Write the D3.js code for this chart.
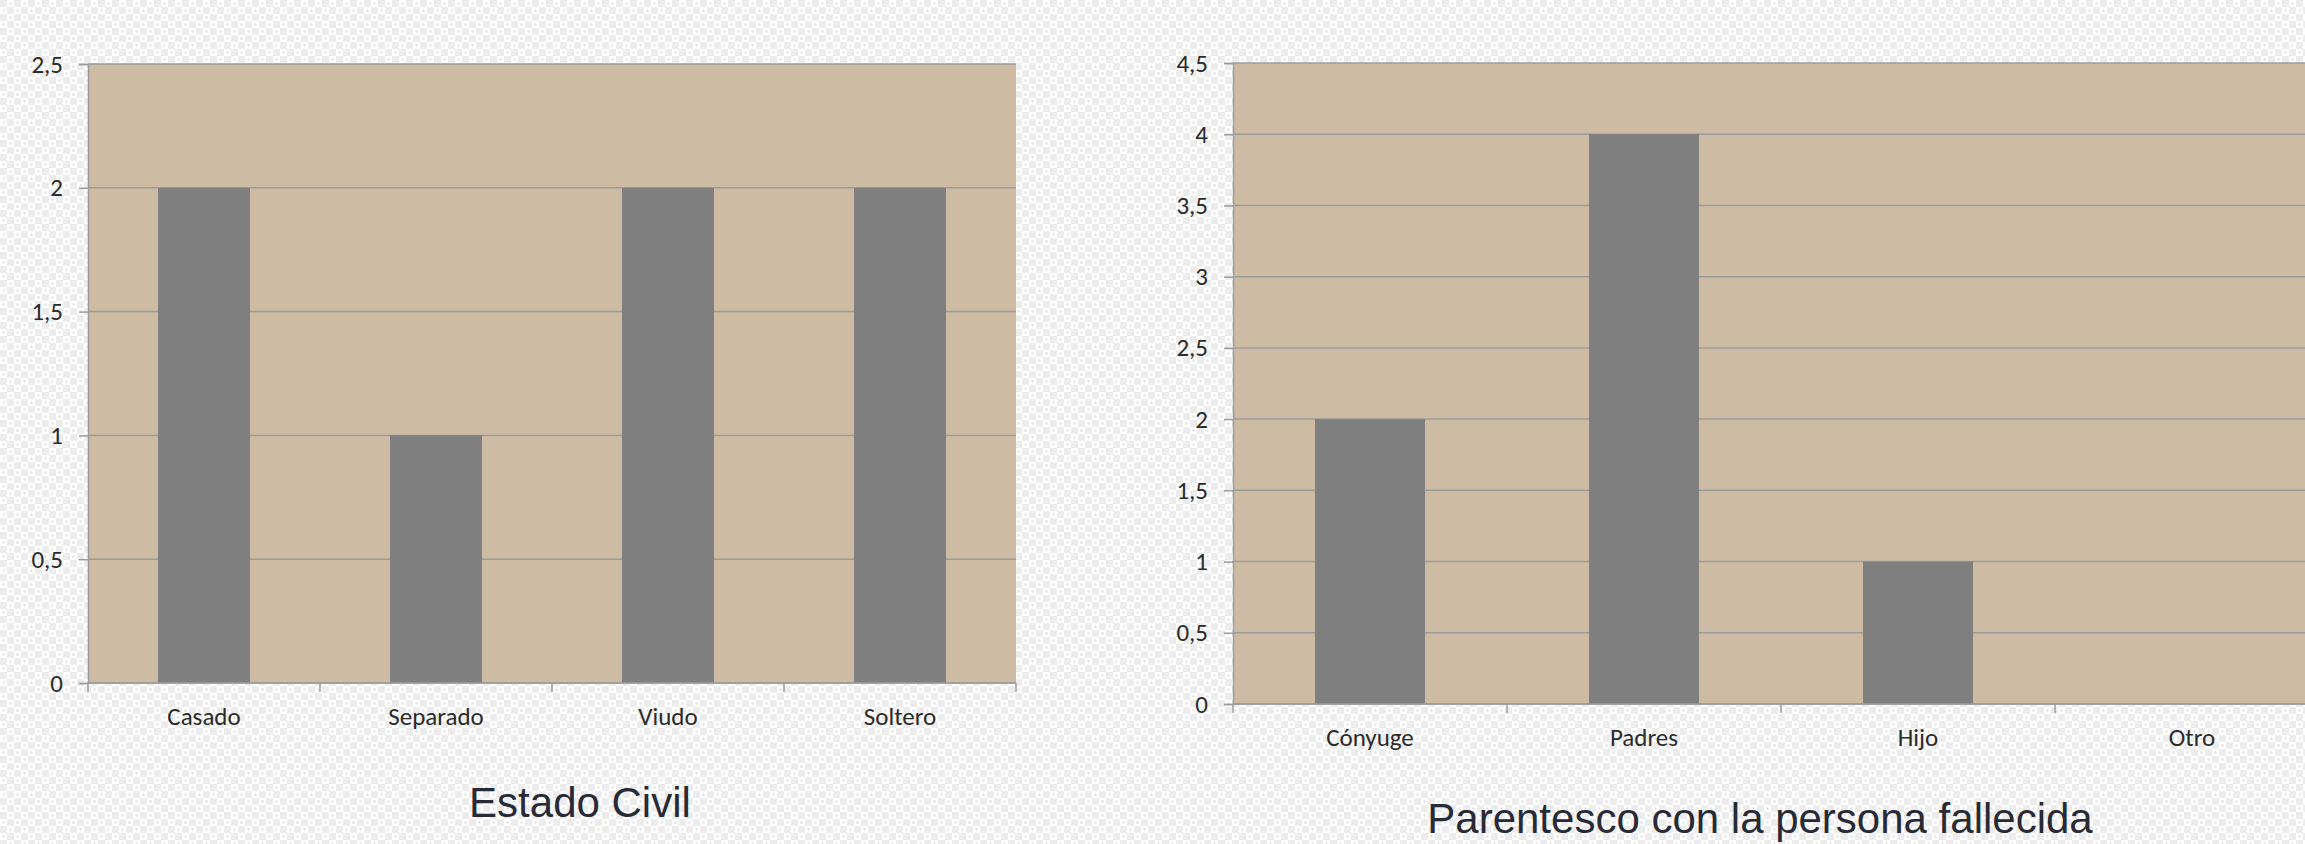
<!DOCTYPE html>
<html>
<head>
<meta charset="utf-8">
<script src="https://cdn.jsdelivr.net/npm/d3@7/dist/d3.min.js"></script>
<style>
  html, body { margin: 0; padding: 0; background: #fff; overflow: hidden; }
  svg { display: block; }
</style>
</head>
<body>
<svg id="chart" width="2305" height="844"></svg>
<script>
// ---- Data ----
const estadoCategories = ["Casado", "Separado", "Viudo", "Soltero"];
const estadoValues = [2, 1, 2, 2];
const estadoTicks = [0, 0.5, 1, 1.5, 2, 2.5];
const estadoTitle = "Estado Civil";

const parentescoCategories = ["Cónyuge", "Padres", "Hijo", "Otro"];
const parentescoValues = [2, 4, 1, 0];
const parentescoTicks = [0, 0.5, 1, 1.5, 2, 2.5, 3, 3.5, 4, 4.5];
const parentescoTitle = "Parentesco con la persona fallecida";

// ---- Setup ----
const svg = d3.select("#chart");
const defs = svg.append("defs");
const pat = defs.append("pattern").attr("id", "checker")
  .attr("width", 14).attr("height", 14).attr("patternUnits", "userSpaceOnUse");
pat.append("rect").attr("width", 14).attr("height", 14).attr("fill", "#ffffff");
pat.append("rect").attr("x", 0).attr("y", 0).attr("width", 7).attr("height", 7).attr("fill", "#ececec");
pat.append("rect").attr("x", 7).attr("y", 7).attr("width", 7).attr("height", 7).attr("fill", "#ececec");
pat.append("rect").attr("x", 9.5).attr("y", 2.5).attr("width", 2).attr("height", 2).attr("fill", "#dcdcdc");
pat.append("rect").attr("x", 2.5).attr("y", 9.5).attr("width", 2).attr("height", 2).attr("fill", "#dcdcdc");
svg.append("rect").attr("width", 2305).attr("height", 844).attr("fill", "url(#checker)");

const fmt = v => String(v).replace(".", ",");
const LABEL_FONT = "Carlito, Lato, 'Open Sans', sans-serif";
const GRID = "#9c9c9c";

function drawChart(cfg) {
  const { categories, values, ticks, title, left, right, top, bottom, barFrac, titleX, titleY } = cfg;
  const g = svg.append("g");
  const pi = 1 - barFrac;
  const x = d3.scaleBand().domain(categories).range([left, right])
    .paddingInner(pi).paddingOuter(pi / 2);
  const y = d3.scaleLinear().domain([0, d3.max(ticks)]).range([bottom, top]);

  // plot area
  g.append("rect").attr("x", left).attr("y", top)
    .attr("width", right - left).attr("height", bottom - top)
    .attr("fill", "#cdbba3");

  // gridlines
  g.append("g").selectAll("line").data(ticks).join("line")
    .attr("x1", left).attr("x2", right)
    .attr("y1", d => y(d)).attr("y2", d => y(d))
    .attr("stroke", GRID).attr("stroke-width", 1.5);

  // bars
  g.append("g").selectAll("rect").data(values).join("rect")
    .attr("x", (d, i) => x(categories[i]))
    .attr("y", d => y(d))
    .attr("width", x.bandwidth())
    .attr("height", d => y(0) - y(d))
    .attr("fill", "#7f7f7f");

  // y axis
  const yAxis = d3.axisLeft(y).tickValues(ticks).tickFormat(fmt)
    .tickSize(9).tickPadding(16);
  const ya = g.append("g").attr("transform", `translate(${left},0)`).call(yAxis);
  ya.select(".domain").attr("stroke", GRID).attr("stroke-width", 1.5);
  ya.selectAll(".tick line").attr("stroke", GRID).attr("stroke-width", 1.5);
  ya.selectAll(".tick text").attr("font-family", LABEL_FONT)
    .attr("font-size", 25).attr("fill", "#2b2b2b");

  // x axis
  const step = x.step();
  const bounds = d3.range(categories.length + 1).map(i => left + i * step);
  g.append("line").attr("x1", left).attr("x2", right)
    .attr("y1", bottom).attr("y2", bottom)
    .attr("stroke", GRID).attr("stroke-width", 1.5);
  g.append("g").selectAll("line").data(bounds).join("line")
    .attr("x1", d => d).attr("x2", d => d)
    .attr("y1", bottom).attr("y2", bottom + 9)
    .attr("stroke", GRID).attr("stroke-width", 1.5);
  g.append("g").selectAll("text").data(categories).join("text")
    .attr("x", d => x(d) + x.bandwidth() / 2)
    .attr("y", bottom + 42)
    .attr("text-anchor", "middle")
    .attr("font-family", LABEL_FONT).attr("font-size", 25).attr("fill", "#2b2b2b")
    .text(d => d);

  // title
  svg.append("text").attr("x", titleX).attr("y", titleY)
    .attr("text-anchor", "middle")
    .attr("font-family", "'Liberation Sans', Arial, sans-serif")
    .attr("font-size", 42).attr("fill", "#282a36")
    .text(title);
}

drawChart({
  categories: estadoCategories, values: estadoValues, ticks: estadoTicks, title: estadoTitle,
  left: 88, right: 1016, top: 64, bottom: 683, barFrac: 92 / 232,
  titleX: 580, titleY: 817
});

drawChart({
  categories: parentescoCategories, values: parentescoValues, ticks: parentescoTicks, title: parentescoTitle,
  left: 1233, right: 2329, top: 63, bottom: 704, barFrac: 110 / 274,
  titleX: 1760, titleY: 833
});
</script>
</body>
</html>
